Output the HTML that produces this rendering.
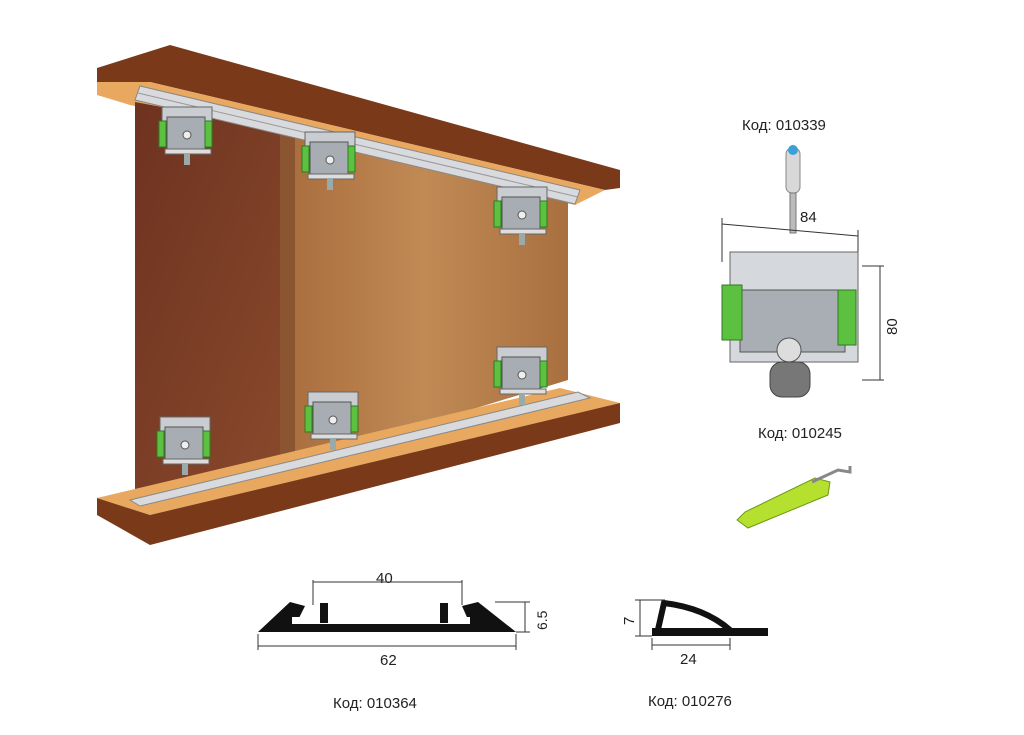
<!DOCTYPE html>
<html><head><meta charset="utf-8"><style>
body{margin:0;background:#fff;width:1024px;height:730px;overflow:hidden}
text{font-family:"Liberation Sans",sans-serif;fill:#222}
</style></head><body>
<svg width="1024" height="730" viewBox="0 0 1024 730">
<defs>
<linearGradient id="dk" x1="0" y1="0" x2="1" y2="1"><stop offset="0" stop-color="#6e3220"/><stop offset="1" stop-color="#8a4a2c"/></linearGradient>
<linearGradient id="lt" x1="0" y1="0" x2="1" y2="0"><stop offset="0" stop-color="#a86c3c"/><stop offset="0.5" stop-color="#c08a55"/><stop offset="1" stop-color="#a8703f"/></linearGradient>
<g id="roll">
<rect x="-25" y="-28" width="50" height="40" fill="#c9ccd0" stroke="#666" stroke-width="1"/>
<rect x="-20" y="-18" width="38" height="32" fill="#a8adb3" stroke="#555"/>
<rect x="-28" y="-14" width="7" height="26" fill="#5cc040" stroke="#2f7a20"/>
<rect x="18" y="-14" width="7" height="26" fill="#5cc040" stroke="#2f7a20"/>
<rect x="-22" y="14" width="46" height="5" fill="#ddd" stroke="#666"/>
<rect x="-3" y="18" width="6" height="12" fill="#9aa"/>
<circle cx="0" cy="0" r="4" fill="#eee" stroke="#555"/>
</g>
</defs>
<polygon points="97,68 170,45 620,170 620,188 605,190 150,82 97,95" fill="#7a3a1a"/>
<polygon points="97,82 150,82 605,190 575,205 130,105 97,95" fill="#e9a860"/>
<polygon points="135,102 295,132 295,468 135,492" fill="url(#dk)"/>
<polygon points="280,128 568,198 568,380 280,468" fill="url(#lt)"/>
<polygon points="280,128 295,132 295,468 280,468" fill="#8a5530"/>
<polygon points="140,86 580,190 575,204 135,100" fill="#d8dade" stroke="#888" stroke-width="1"/>
<line x1="138" y1="93" x2="578" y2="197" stroke="#999"/>
<polygon points="97,498 560,388 620,403 150,515" fill="#e9a860"/>
<polygon points="97,498 150,515 620,403 620,423 150,545 97,515" fill="#7a3a1a"/>
<polygon points="130,500 578,392 590,398 140,506" fill="#d8dade" stroke="#888"/>
<use href="#roll" x="187" y="135"/>
<use href="#roll" x="330" y="160"/>
<use href="#roll" x="522" y="215"/>
<use href="#roll" x="185" y="445"/>
<use href="#roll" x="333" y="420"/>
<use href="#roll" x="522" y="375"/>
<text x="742" y="130" font-size="15">Код: 010339</text>
<rect x="786" y="148" width="14" height="45" rx="6" fill="#d8d8d8" stroke="#888"/>
<circle cx="793" cy="150" r="5" fill="#3aa0d8"/>
<rect x="790" y="193" width="6" height="40" fill="#bbb" stroke="#777"/>
<line x1="722" y1="224" x2="858" y2="236" stroke="#333"/>
<line x1="722" y1="218" x2="722" y2="262" stroke="#333"/><line x1="858" y1="230" x2="858" y2="268" stroke="#333"/>
<text x="800" y="222" font-size="15">84</text>
<rect x="730" y="252" width="128" height="110" fill="#d5d8dc" stroke="#666"/>
<rect x="740" y="290" width="105" height="62" fill="#a9aeb4" stroke="#555"/>
<rect x="722" y="285" width="20" height="55" fill="#5cc040" stroke="#2f7a20"/>
<rect x="838" y="290" width="18" height="55" fill="#5cc040" stroke="#2f7a20"/>
<circle cx="789" cy="350" r="12" fill="#ddd" stroke="#555"/>
<rect x="770" y="362" width="40" height="35" rx="12" fill="#777" stroke="#444"/>
<line x1="862" y1="266" x2="884" y2="266" stroke="#333"/><line x1="862" y1="380" x2="884" y2="380" stroke="#333"/>
<line x1="880" y1="266" x2="880" y2="380" stroke="#333"/>
<text x="0" y="0" font-size="15" transform="translate(897,335) rotate(-90)">80</text>
<text x="758" y="438" font-size="15">Код: 010245</text>
<polygon points="737,520 745,512 815,478 830,482 828,495 748,528" fill="#b6e030" stroke="#6a9a10"/>
<path d="M812,482 L838,470 L850,472 L850,466" fill="none" stroke="#888" stroke-width="3"/>
<polygon points="258,632 290,602 305,606 296,624 470,624 462,606 478,602 516,632" fill="#111"/>
<rect x="292" y="617" width="178" height="7" fill="#fff"/>
<rect x="320" y="603" width="8" height="20" fill="#111"/><rect x="440" y="603" width="8" height="20" fill="#111"/>
<line x1="313" y1="582" x2="462" y2="582" stroke="#333"/>
<line x1="313" y1="580" x2="313" y2="605" stroke="#333"/><line x1="462" y1="580" x2="462" y2="605" stroke="#333"/>
<text x="376" y="583" font-size="15">40</text>
<line x1="258" y1="646" x2="516" y2="646" stroke="#333"/>
<line x1="258" y1="634" x2="258" y2="650" stroke="#333"/><line x1="516" y1="634" x2="516" y2="650" stroke="#333"/>
<text x="380" y="665" font-size="15">62</text>
<line x1="495" y1="602" x2="530" y2="602" stroke="#333"/><line x1="516" y1="632" x2="530" y2="632" stroke="#333"/>
<line x1="525" y1="602" x2="525" y2="632" stroke="#333"/>
<text x="0" y="0" font-size="14" transform="translate(547,630) rotate(-90)">6.5</text>
<text x="333" y="708" font-size="15">Код: 010364</text>
<rect x="652" y="628" width="116" height="8" fill="#111"/>
<path d="M657,634 L664,603 Q705,608 730,630" fill="none" stroke="#111" stroke-width="6"/>
<line x1="635" y1="600" x2="665" y2="600" stroke="#333"/><line x1="635" y1="636" x2="652" y2="636" stroke="#333"/>
<line x1="640" y1="600" x2="640" y2="636" stroke="#333"/>
<text x="0" y="0" font-size="15" transform="translate(634,625) rotate(-90)">7</text>
<line x1="652" y1="645" x2="730" y2="645" stroke="#333"/>
<line x1="652" y1="638" x2="652" y2="650" stroke="#333"/><line x1="730" y1="638" x2="730" y2="650" stroke="#333"/>
<text x="680" y="664" font-size="15">24</text>
<text x="648" y="706" font-size="15">Код: 010276</text>
</svg>
</body></html>
